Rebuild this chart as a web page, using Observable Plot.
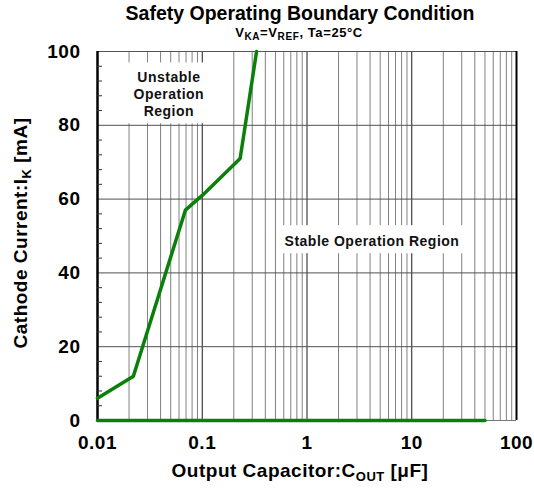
<!DOCTYPE html>
<html>
<head>
<meta charset="utf-8">
<script src="https://cdn.jsdelivr.net/npm/d3@7"></script>
<script src="https://cdn.jsdelivr.net/npm/@observablehq/plot@0.6"></script>
<style>
  html, body { margin: 0; padding: 0; background: white; }
  svg { display: block; }
</style>
</head>
<body>
<div id="chart"></div>
<script>
// ---- data ----
const capacitance = [0.01, 0.022, 0.069, 0.1, 0.23, 0.33];   // µF
const current     = [6, 12, 57, 61, 71, 100];                 // mA
const floorCap    = [0.01, 50];
const floorCur    = [0, 0];

const xDecades    = [0.01, 0.1, 1, 10, 100];
const xTickLabels = ["0.01", "0.1", "1", "10", "100"];
const xMinorMult  = [2, 3, 4, 5, 6, 7, 8, 9];
const yTicks      = [0, 20, 40, 60, 80, 100];
const yMinorTicks = [4, 8, 12, 16, 24, 28, 32, 36, 44, 48, 52, 56, 64, 68, 72, 76, 84, 88, 92, 96];

const regionText  = ["Unstable\nOperation\nRegion", "Stable Operation Region"];
const regionX     = [0.048, 4.17];
const regionY     = [88.6, 48.7];
const boxX1       = [0.0125, 0.52];
const boxX2       = [0.15, 33];
const boxY1       = [80.4, 45.2];
const boxY2       = [96.9, 52.8];

// ---- derived tables ----
const curve = capacitance.map((c, i) => ({c, i: current[i]}));
const floorLine = floorCap.map((c, i) => ({c, i: floorCur[i]}));
const xMinor = [];
xDecades.slice(0, -1).forEach(d => xMinorMult.forEach(m => xMinor.push(d * m)));
const regions = regionText.map((t, k) => ({t, x: regionX[k], y: regionY[k]}));
const boxes = boxX1.map((x1, k) => ({x1, x2: boxX2[k], y1: boxY1[k], y2: boxY2[k]}));
const labelOf = new Map(xDecades.map((d, k) => [d, xTickLabels[k]]));

const ff = "'Liberation Sans', Arial, sans-serif";

const svg = Plot.plot({
  width: 534,
  height: 489,
  marginLeft: 97,
  marginRight: 18,
  marginTop: 51,
  marginBottom: 69,
  x: {type: "log", domain: [0.01, 100]},
  y: {domain: [0, 100]},
  style: {fontFamily: ff, fontWeight: "bold", fontSize: "19px", letterSpacing: "0.5px", color: "black", background: "white"},
  marks: [
    Plot.ruleX(xMinor, {stroke: "#808080", strokeWidth: 1}),
    Plot.ruleX([0.1, 1, 10], {stroke: "#1a1a1a", strokeWidth: 1}),
    Plot.ruleY([20, 40, 60, 80], {stroke: "#505050", strokeWidth: 1}),
    Plot.rect(boxes, {x1: "x1", x2: "x2", y1: "y1", y2: "y2", fill: "white"}),
    Plot.text(regions, {x: "x", y: "y", text: "t", fontSize: 14, lineHeight: 1.19, fill: "#111"}),
    Plot.ruleY([100], {stroke: "#555", strokeWidth: 1}),
    Plot.ruleY([0], {stroke: "#777", strokeWidth: 1}),
    Plot.ruleX([0.01], {stroke: "black", strokeWidth: 2.5}),
    Plot.ruleX([100], {stroke: "black", strokeWidth: 2}),
    Plot.axisY(yMinorTicks, {tickSize: -5, text: null, label: null, stroke: "#333"}),
    Plot.axisY(yTicks, {tickSize: 0, tickPadding: 17, label: null}),
    Plot.axisX(xDecades, {tickSize: 0, tickPadding: 15, label: null, tickFormat: d => labelOf.get(d)}),
    Plot.line(curve, {x: "c", y: "i", stroke: "#0a800a", strokeWidth: 3.5}),
    Plot.line(floorLine, {x: "c", y: "i", stroke: "#0a800a", strokeWidth: 3.5})
  ]
});

const s = d3.select(svg);

// Title
s.append("text").attr("x", 300).attr("y", 20).attr("text-anchor", "middle")
  .attr("font-family", ff).attr("font-weight", "bold").attr("font-size", 19.5)
  .attr("letter-spacing", "0px").attr("fill", "black")
  .text("Safety Operating Boundary Condition");

// Subtitle with subscripts
const sub = s.append("text").attr("x", 299).attr("y", 37).attr("text-anchor", "middle")
  .attr("font-family", ff).attr("font-weight", "bold").attr("font-size", 13)
  .attr("letter-spacing", "0.6px").attr("fill", "black");
sub.append("tspan").text("V");
sub.append("tspan").attr("dy", 3).attr("font-size", 10).text("KA");
sub.append("tspan").attr("dy", -3).text("=V");
sub.append("tspan").attr("dy", 3).attr("font-size", 10).text("REF");
sub.append("tspan").attr("dy", -3).text(", Ta=25°C");

// X axis label
const xl = s.append("text").attr("x", 300).attr("y", 477).attr("text-anchor", "middle")
  .attr("font-family", ff).attr("font-weight", "bold").attr("font-size", 19).attr("fill", "black");
xl.append("tspan").text("Output Capacitor:C");
xl.append("tspan").attr("dy", 4).attr("font-size", 13).text("OUT");
xl.append("tspan").attr("dy", -4).text(" [μF]");

// Y axis label
const yl = s.append("text").attr("transform", "translate(27,233) rotate(-90)").attr("text-anchor", "middle")
  .attr("font-family", ff).attr("font-weight", "bold").attr("font-size", 19).attr("fill", "black");
yl.append("tspan").text("Cathode Current:I");
yl.append("tspan").attr("dy", 4).attr("font-size", 13).text("K");
yl.append("tspan").attr("dy", -4).text(" [mA]");

document.getElementById("chart").appendChild(svg);
</script>
</body>
</html>
